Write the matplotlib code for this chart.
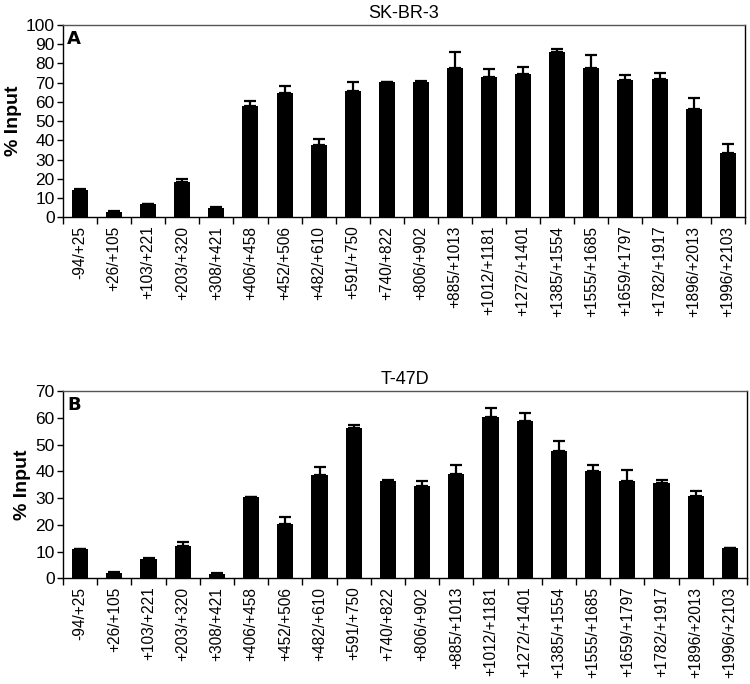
import numpy as np
import matplotlib.pyplot as plt

plt.rcParams['font.family'] = ['Liberation Sans', 'DejaVu Sans']

# =============================================================================
#               DATOS
# =============================================================================

regiones = ['-94/+25', '+26/+105', '+103/+221', '+203/+320', '+308/+421',
            '+406/+458', '+452/+506', '+482/+610', '+591/+750', '+740/+822',
            '+806/+902', '+885/+1013', '+1012/+1181', '+1272/+1401',
            '+1385/+1554', '+1555/+1685', '+1659/+1797', '+1782/+1917',
            '+1896/+2013', '+1996/+2103']

skbr3 = [14.4, 2.8, 6.7, 18.6, 4.9, 58.0, 64.4, 37.6, 65.8, 70.2,
         70.6, 77.4, 72.8, 74.3, 85.9, 77.4, 71.6, 72.0, 56.4, 33.5]
skbr3_err = [0.5, 0.3, 0.4, 1.3, 0.2, 2.6, 3.8, 3.3, 4.5, 0.3,
             0.3, 8.4, 4.3, 3.8, 1.8, 7.2, 2.4, 3.1, 5.6, 4.4]

t47d = [10.8, 2.1, 7.3, 12.2, 1.8, 30.3, 20.4, 38.6, 56.0, 36.5,
        34.6, 39.0, 60.3, 58.8, 47.7, 40.0, 36.2, 35.6, 30.8, 11.3]
t47d_err = [0.2, 0.1, 0.2, 1.5, 0.1, 0.1, 2.5, 3.0, 1.3, 0.2,
            1.9, 3.2, 3.2, 3.1, 3.7, 2.2, 4.1, 1.0, 2.0, 0.1]

# =============================================================================
#                              PLOTEO
# =============================================================================

fig = plt.figure(figsize=(7.5, 6.84), dpi=100)
ax1 = fig.add_axes([0.084, 0.6823, 0.909, 0.2812])
ax2 = fig.add_axes([0.084, 0.1545, 0.912, 0.2739])

paneles = [(ax1, skbr3, skbr3_err, 'SK-BR-3', 'A', 100),
           (ax2, t47d, t47d_err, 'T-47D', 'B', 70)]

x = np.arange(len(regiones))

for ax, val, err, titulo, letra, ymax in paneles:
    ax.bar(x, val, width=0.47, color='black',
           yerr=[np.zeros(len(err)), err], capsize=4,
           error_kw=dict(elinewidth=1.6, capthick=1.6, ecolor='black'))
    ax.set_xlim(-0.5, len(regiones) - 0.5)
    ax.set_ylim(0, ymax)
    ax.set_yticks(np.arange(0, ymax + 1, 10))
    ax.set_xticks(x)
    ax.set_xticklabels(regiones, rotation=90, fontsize=11.2)
    ax.set_xticks(np.arange(-0.5, len(regiones), 1), minor=True)
    ax.tick_params(axis='x', which='major', length=0, pad=6)
    ax.tick_params(axis='x', which='minor', length=5, width=1, direction='out')
    ax.tick_params(axis='y', labelsize=12.5, length=4, width=1, pad=2)
    ax.set_ylabel('% Input', fontsize=14, fontweight='bold', labelpad=3)
    ax.set_title(titulo, fontsize=13, pad=5)
    for s in ax.spines.values():
        s.set_linewidth(1)
    ax.spines['top'].set_color('#555555')
    ax.text(0.006, 0.975, letra, transform=ax.transAxes, ha='left', va='top',
            fontsize=13, fontweight='bold',
            family=['Liberation Sans Narrow', 'DejaVu Sans'])

fig.savefig('out.png', dpi=100)
